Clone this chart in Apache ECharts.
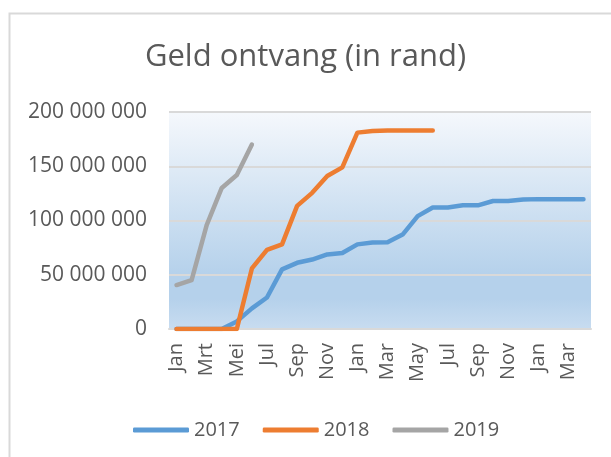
<!DOCTYPE html>
<html>
<head>
<meta charset="utf-8">
<script src="https://cdn.jsdelivr.net/npm/echarts@6/dist/echarts.min.js"></script>
<style>html,body{margin:0;padding:0;background:#fff}#c{width:611px;height:457px}</style>
</head>
<body>
<div id="c"></div>
<script>
const categories = ['Jan','Feb','Mrt','Apr','Mei','Jun','Jul','Aug','Sep','Okt','Nov','Des',
  'Jan','Feb','Mar','Apr','May','Jun','Jul','Aug','Sep','Oct','Nov','Dec',
  'Jan','Feb','Mar','Apr'];
const s2017 = [0,0,0,0,7000000,19000000,29000000,55000000,61000000,64000000,68700000,70000000,
  78000000,79800000,80000000,87000000,104000000,112000000,112000000,114000000,114000000,118000000,118000000,119300000,
  119700000,119700000,119700000,119700000];
const s2018 = [0,0,0,0,0,55800000,73000000,78000000,113500000,125500000,141000000,149000000,
  181000000,182500000,183000000,183000000,183000000,183000000];
const s2019 = [40500000,45000000,95700000,130000000,142000000,170000000];
const yTicks = {min:0, max:200000000, interval:50000000};

const chart = echarts.init(document.getElementById('c'), null, {renderer:'canvas'});
const font = '"Open Sans", "Noto Sans", sans-serif';
const fmt = v => String(v).replace(/\B(?=(\d{3})+(?!\d))/g, ' ');
const mk = (name, data, color) => ({
  name, type:'line', data, symbol:'none', showSymbol:false,
  lineStyle:{color, width:4.5, cap:'round', join:'round'}, itemStyle:{color},
  emphasis:{disabled:true}, animation:false
});
chart.setOption({
  animation:false,
  color:['#5b9bd5','#ed7d31','#a5a5a5'],
  graphic:[{type:'rect', shape:{x:9.5,y:13.5,width:700,height:600},
    style:{fill:'none', stroke:'#d9d9d9', lineWidth:2}, silent:true}],
  title:{text:'Geld ontvang (in rand)', left:'center', top:37,
    textStyle:{fontFamily:font, fontSize:31, fontWeight:'normal', color:'#595959'}},
  legend:{left:128, top:415, itemWidth:56, itemHeight:5, itemGap:23, icon:'roundRect',
    textStyle:{fontFamily:font, fontSize:20, color:'#595959'},
    data:['2017','2018','2019']},
  grid:{left:169, right:20, top:112, bottom:128, show:true, borderWidth:0,
    backgroundColor:new echarts.graphic.LinearGradient(0,0,0,1,[
      {offset:0,color:'#f5f8fc'},{offset:0.75,color:'#b5d1eb'},
      {offset:0.86,color:'#b5d1eb'},{offset:1,color:'#c8dcf0'}])},
  xAxis:{type:'category', data:categories, boundaryGap:true,
    axisLine:{lineStyle:{color:'#d9d9d9', width:2}}, axisTick:{show:false},
    axisLabel:{interval:1, rotate:90, margin:14, fontFamily:font, fontSize:20, color:'#595959'}},
  yAxis:{type:'value', min:yTicks.min, max:yTicks.max, interval:yTicks.interval,
    axisLine:{show:false}, axisTick:{show:false},
    splitLine:{lineStyle:{color:'#d9d9d9', width:2}},
    axisLabel:{margin:22, fontFamily:font, fontSize:21, color:'#595959', formatter:fmt}},
  series:[mk('2017', s2017, '#5b9bd5'), mk('2018', s2018, '#ed7d31'), mk('2019', s2019, '#a5a5a5')]
});
</script>
</body>
</html>
